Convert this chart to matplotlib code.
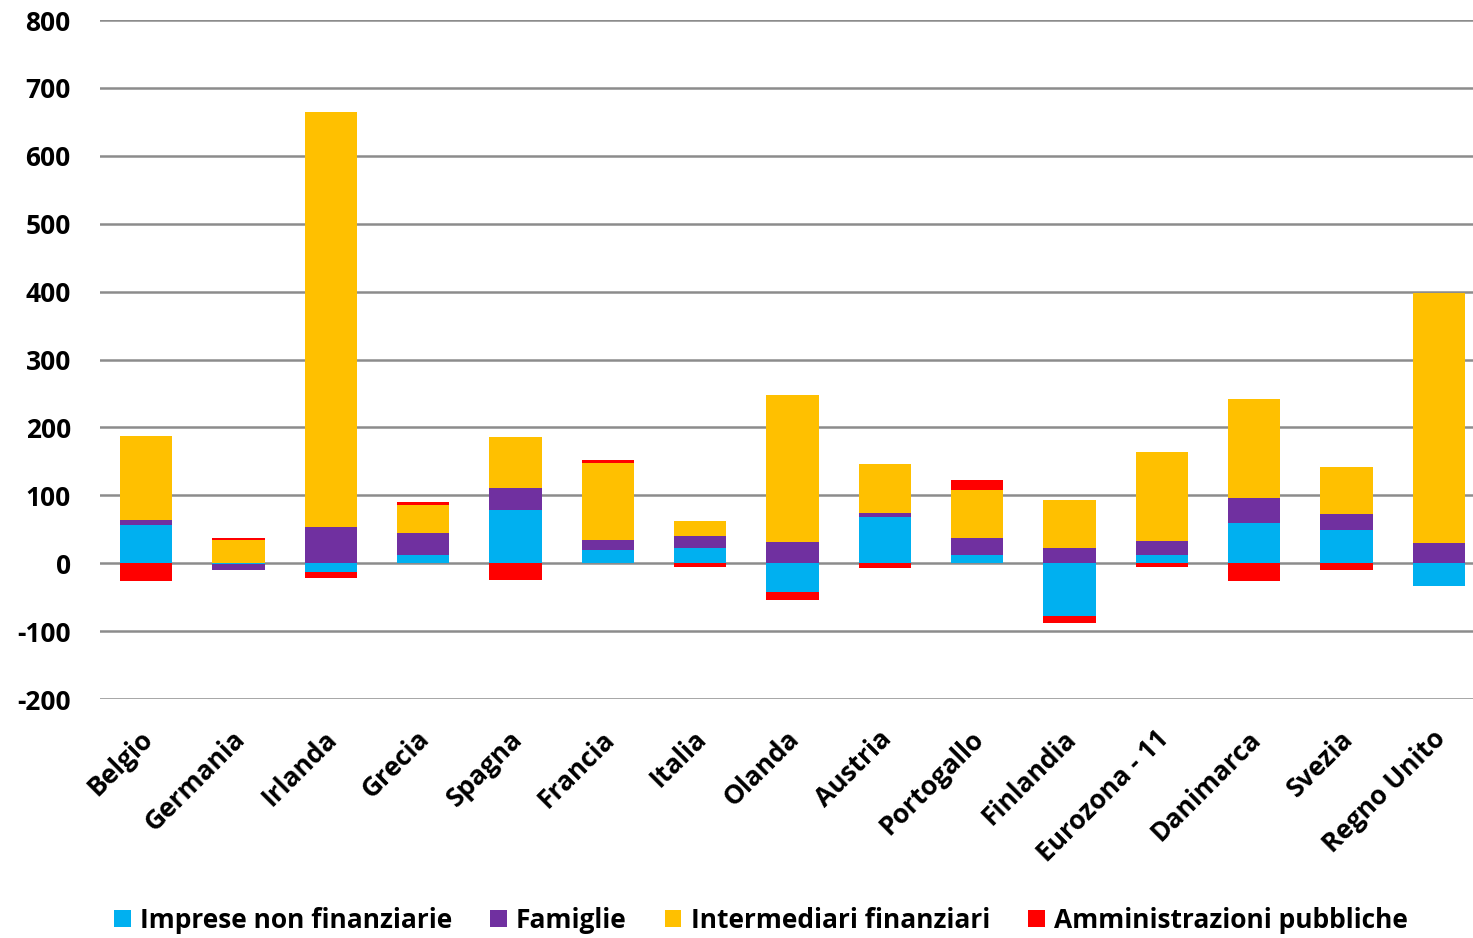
import numpy as np
import matplotlib
matplotlib.use("Agg")
import matplotlib.pyplot as plt
import matplotlib.transforms as mtransforms
from matplotlib.patches import Patch

categories = ["Belgio", "Germania", "Irlanda", "Grecia", "Spagna", "Francia", "Italia",
              "Olanda", "Austria", "Portogallo", "Finlandia", "Eurozona - 11",
              "Danimarca", "Svezia", "Regno Unito"]
imprese = [56.6, -1.0, -13.5, 12.5, 77.7, 19.9, 22.3, -41.9, 67.9, 12.0, -77.2, 12.0, 59.6, 49.3, -34.1]
famiglie = [6.4, -9.5, 53.2, 31.9, 33.3, 14.7, 17.1, 31.6, 6.4, 25.5, 21.8, 20.6, 36.7, 23.5, 30.1]
intermediari = [124.5, 33.5, 611.0, 40.6, 74.6, 112.7, 22.1, 216.2, 72.0, 71.0, 70.6, 131.8, 145.2, 69.6, 368.0]
amministrazioni = [-26.7, 4.0, -7.8, 5.0, -24.3, 4.9, -6.0, -12.8, -7.0, 13.3, -10.8, -5.6, -26.2, -10.6, 0.0]
series_names = ["Imprese non finanziarie", "Famiglie", "Intermediari finanziari", "Amministrazioni pubbliche"]
colors = ["#00B0F0", "#7030A0", "#FFC000", "#FF0000"]
yticks = [-200, -100, 0, 100, 200, 300, 400, 500, 600, 700, 800]

plt.rcParams['font.family'] = ['Open Sans', 'DejaVu Sans']
fig = plt.figure(figsize=(14.73, 9.38), dpi=100)
ax = fig.add_axes([100/1473, (938-699)/938, (1485-100)/1473, (699-20)/938])

x = np.arange(len(categories))
pos_base = np.zeros(len(categories))
neg_base = np.zeros(len(categories))
for vals, col, name in zip([imprese, famiglie, intermediari, amministrazioni], colors, series_names):
    v = np.array(vals, dtype=float)
    bottoms = np.where(v >= 0, pos_base, neg_base)
    ax.bar(x, v, bottom=bottoms, width=0.565, color=col, label=name, zorder=3)
    pos_base += np.where(v >= 0, v, 0)
    neg_base += np.where(v < 0, v, 0)

ax.set_xlim(-0.5, len(categories) - 0.5)
ax.set_ylim(-200, 800)
ax.set_yticks(yticks)
ax.set_yticklabels([str(t) for t in yticks], fontsize=19, fontweight='bold')
ax.set_xticks(x)
ax.set_xticklabels(categories, rotation=45, ha='right', rotation_mode='anchor',
                   fontsize=19, fontweight='bold')
ax.tick_params(axis='both', length=0)
ax.tick_params(axis='y', pad=21)
ax.tick_params(axis='x', pad=19)
offset = mtransforms.ScaledTranslation(-7/100, 0, fig.dpi_scale_trans)
for lbl in ax.get_xticklabels():
    lbl.set_transform(lbl.get_transform() + offset)
ax.grid(axis='y', color='#8c8c8c', linewidth=1.8, zorder=0)
ax.set_axisbelow(True)
for s in ax.spines.values():
    s.set_visible(False)

handles = [Patch(facecolor=c, edgecolor='none') for c in colors]
fig.legend(handles, series_names, loc='center', bbox_to_anchor=(761/1473, 1 - 920/938),
           ncol=4, frameon=False, prop={'size': 19, 'weight': 'bold'},
           handlelength=0.62, handleheight=0.62, handletextpad=0.35, columnspacing=1.45)

fig.savefig("out.png", dpi=100)
